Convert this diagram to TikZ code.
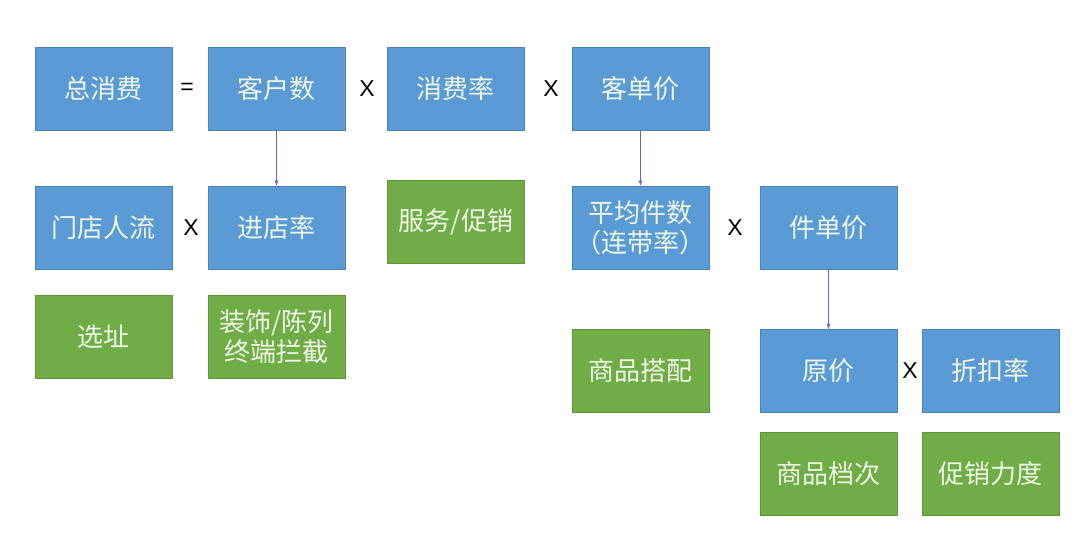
\documentclass[tikz,border=0pt]{standalone}
\usepackage{fontspec}
\setmainfont{Liberation Sans}
\newfontfamily\cjk{Noto Sans CJK SC}
\usetikzlibrary{arrows.meta}
\definecolor{bbox}{HTML}{5B9BD5}
\definecolor{bborder}{HTML}{4A84B8}
\definecolor{gbox}{HTML}{70AD47}
\definecolor{gborder}{HTML}{5E9639}
\definecolor{txt}{HTML}{EEF6E6}
\definecolor{arr}{HTML}{5B6BC0}
\begin{document}
\begin{tikzpicture}[x=1pt,y=-1pt,
  box/.style={minimum width=137pt,minimum height=83pt,inner sep=0pt,
    font=\cjk\fontsize{26}{30}\selectfont,text=txt,align=center,line width=0.8pt},
  bluebox/.style={box,fill=bbox,draw=bborder},
  greenbox/.style={box,fill=gbox,draw=gborder},
  op/.style={font=\fontsize{23}{26}\selectfont,text=black},
  conn/.style={draw=arr,line width=0.8pt,-{Stealth[length=6pt,width=4pt]}}]
\useasboundingbox[fill=white] (0,0) rectangle (1080,553);
% row 1
\node[bluebox] (total) at (103.5,88.5) {总消费};
\node[bluebox] (cust) at (276.5,88.5) {客户数};
\node[bluebox] (rate) at (455.5,88.5) {消费率};
\node[bluebox] (price) at (640.5,88.5) {客单价};
\node[op] (eq) at (187,88.5) {=};
\node[op] (x1) at (367,89) {X};
\node[op] (x2) at (551,89) {X};
% row 2
\node[bluebox] (flow) at (103.5,227.5) {门店人流};
\node[bluebox] (enter) at (276.5,227.5) {进店率};
\node[greenbox] (serv) at (456,221.5) {服务/促销};
\node[bluebox] (avg) at (640.5,227.5) {平均件数\\（连带率）};
\node[bluebox] (unit) at (828.5,227.5) {件单价};
\node[op] (x3) at (191,228) {X};
\node[op] (x4) at (735,228) {X};
% row 3
\node[greenbox] (site) at (103.5,337) {选址};
\node[greenbox] (deco) at (276.5,337) {装饰/陈列\\终端拦截};
\node[greenbox] (match) at (640.5,371) {商品搭配};
\node[bluebox] (orig) at (828.5,371) {原价};
\node[bluebox] (disc) at (990.5,371) {折扣率};
\node[op] (x5) at (910,371) {X};
% row 4
\node[greenbox] (grade) at (828.5,473.5) {商品档次};
\node[greenbox] (promo) at (990.5,473.5) {促销力度};
% connectors
\draw[conn] (cust.south) -- (enter.north);
\draw[conn] (price.south) -- (avg.north);
\draw[conn] (unit.south) -- (orig.north);
\end{tikzpicture}
\end{document}
